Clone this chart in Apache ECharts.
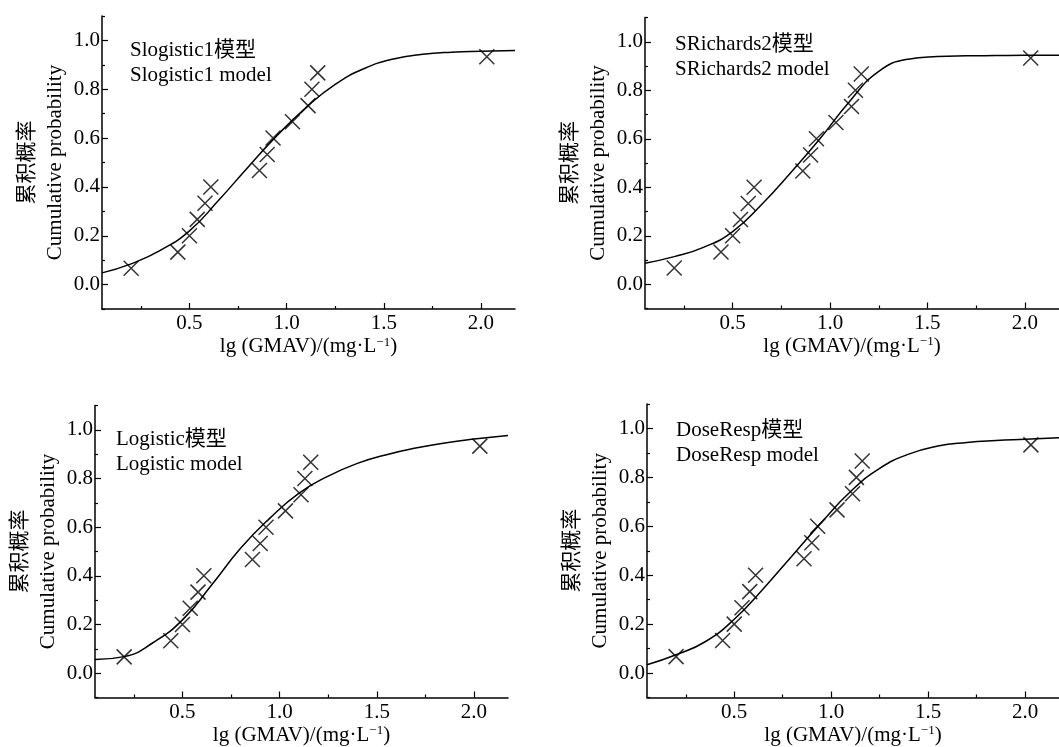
<!DOCTYPE html>
<html>
<head>
<meta charset="utf-8">
<script src="https://cdn.jsdelivr.net/npm/echarts@6/dist/echarts.min.js"></script>
<style>
html, body { margin: 0; padding: 0; background: #fff; }
#main { width: 1059px; height: 747px; }
</style>
</head>
<body>
<div id="main"></div>
<script>
// 实测点 lg(GMAV) 与累积概率
const lgGMAV = [0.20, 0.44, 0.50, 0.54, 0.58, 0.61, 0.86, 0.90, 0.93, 1.03, 1.11, 1.13, 1.16, 2.03];
const cumProb = [0.067, 0.133, 0.200, 0.267, 0.333, 0.400, 0.467, 0.533, 0.600, 0.667, 0.733, 0.800, 0.867, 0.933];

// 拟合曲线
const curveX = [0.05, 0.2, 0.35, 0.5, 0.65, 0.8, 0.95, 1.1, 1.25, 1.4, 1.55, 1.7, 1.85, 2.0, 2.175];
const slogistic1Y = [0.048, 0.085, 0.140, 0.220, 0.345, 0.480, 0.610, 0.725, 0.820, 0.885, 0.924, 0.943, 0.952, 0.956, 0.959];
const srichards2Y = [0.087, 0.114, 0.152, 0.217, 0.330, 0.462, 0.602, 0.754, 0.878, 0.928, 0.939, 0.942, 0.943, 0.944, 0.944];
const logisticY = [0.056, 0.068, 0.126, 0.219, 0.362, 0.514, 0.637, 0.740, 0.810, 0.862, 0.898, 0.925, 0.946, 0.962, 0.977];
const doseRespY = [0.034, 0.075, 0.128, 0.220, 0.345, 0.481, 0.616, 0.742, 0.837, 0.895, 0.928, 0.943, 0.951, 0.956, 0.962];

const modelNames = ["Slogistic1", "SRichards2", "Logistic", "DoseResp"];
const curves = [slogistic1Y, srichards2Y, logisticY, doseRespY];

const xTicks = [0.5, 1.0, 1.5, 2.0];
const xMinorTicks = [0.25, 0.75, 1.25, 1.75];
const yTicks = [0.0, 0.2, 0.4, 0.6, 0.8, 1.0];
const yMinorTicks = [-0.1, 0.1, 0.3, 0.5, 0.7, 0.9, 1.1];

const FONT = '"Liberation Serif", "Noto Sans CJK SC", serif';

// 四个子图的位置
const grids = [
  { left: 102, top: 16, width: 413, height: 293 },
  { left: 645, top: 17.5, width: 414, height: 291 },
  { left: 95, top: 405.5, width: 413, height: 292 },
  { left: 647, top: 404, width: 414, height: 293.5 }
];
const labelPos = [
  { left: 130, top: 38 },
  { left: 675, top: 32 },
  { left: 116, top: 427 },
  { left: 676, top: 417.5 }
];

const xAxes = [];
const yAxes = [];
const series = [];
const graphics = [];

grids.forEach((g, i) => {
  xAxes.push({
    type: "value",
    gridIndex: i,
    position: "bottom",
    min: 0.05,
    max: 2.175,
    name: "lg (GMAV)/(mg·L{sup|−1})",
    nameLocation: "middle",
    nameGap: 27,
    nameTextStyle: {
      fontFamily: FONT, fontSize: 21, color: "#000",
      rich: { sup: { fontFamily: FONT, fontSize: 13, color: "#000", verticalAlign: "top" } }
    },
    axisLine: { show: true, onZero: false, lineStyle: { color: "#000", width: 1.5 } },
    axisTick: { show: true, inside: true, length: 6, customValues: xTicks, lineStyle: { color: "#000", width: 1.2 } },
    axisLabel: {
      customValues: xTicks, margin: 4, color: "#000", fontFamily: FONT, fontSize: 21,
      formatter: v => v.toFixed(1)
    },
    splitLine: { show: false }
  });
  // 次刻度
  xAxes.push({
    type: "value",
    gridIndex: i,
    position: "bottom",
    min: 0.05,
    max: 2.175,
    axisLine: { show: false, onZero: false },
    axisTick: { show: true, inside: true, length: 3, customValues: xMinorTicks, lineStyle: { color: "#000", width: 1.2 } },
    axisLabel: { show: false },
    splitLine: { show: false }
  });
  yAxes.push({
    type: "value",
    gridIndex: i,
    position: "left",
    min: -0.1,
    max: 1.1,
    name: "累积概率\nCumulative probability",
    nameLocation: "middle",
    nameRotate: 90,
    nameGap: 33,
    nameTextStyle: { fontFamily: FONT, fontSize: 21, color: "#000", lineHeight: 28, align: "center" },
    axisLine: { show: true, onZero: false, lineStyle: { color: "#000", width: 1.5 } },
    axisTick: { show: true, inside: true, length: 6, customValues: yTicks, lineStyle: { color: "#000", width: 1.2 } },
    axisLabel: {
      customValues: yTicks, margin: 2, color: "#000", fontFamily: FONT, fontSize: 21,
      formatter: v => v.toFixed(1)
    },
    splitLine: { show: false }
  });
  yAxes.push({
    type: "value",
    gridIndex: i,
    position: "left",
    min: -0.1,
    max: 1.1,
    axisLine: { show: false, onZero: false },
    axisTick: { show: true, inside: true, length: 3, customValues: yMinorTicks, lineStyle: { color: "#000", width: 1.2 } },
    axisLabel: { show: false },
    splitLine: { show: false }
  });

  series.push({
    type: "line",
    xAxisIndex: i * 2,
    yAxisIndex: i * 2,
    data: curveX.map((x, k) => [x, curves[i][k]]),
    smooth: 0.5,
    symbol: "none",
    lineStyle: { color: "#000", width: 1.5 },
    z: 2
  });
  series.push({
    type: "scatter",
    xAxisIndex: i * 2,
    yAxisIndex: i * 2,
    data: lgGMAV.map((x, k) => [x, cumProb[k]]),
    symbol: "path://M0,0L10,10M0,10L10,0",
    symbolSize: 15,
    itemStyle: { color: "transparent", borderColor: "#000", borderWidth: 1.5 },
    z: 3
  });

  graphics.push({
    type: "text",
    left: labelPos[i].left,
    top: labelPos[i].top,
    style: {
      text: modelNames[i] + "模型\n" + modelNames[i] + " model",
      font: "21px " + FONT,
      fill: "#000",
      lineHeight: 25
    }
  });
});

const myChart = echarts.init(document.getElementById("main"), null, { renderer: "canvas" });
myChart.setOption({
  animation: false,
  backgroundColor: "#fff",
  grid: grids,
  xAxis: xAxes,
  yAxis: yAxes,
  series: series,
  graphic: graphics
});
</script>
</body>
</html>
